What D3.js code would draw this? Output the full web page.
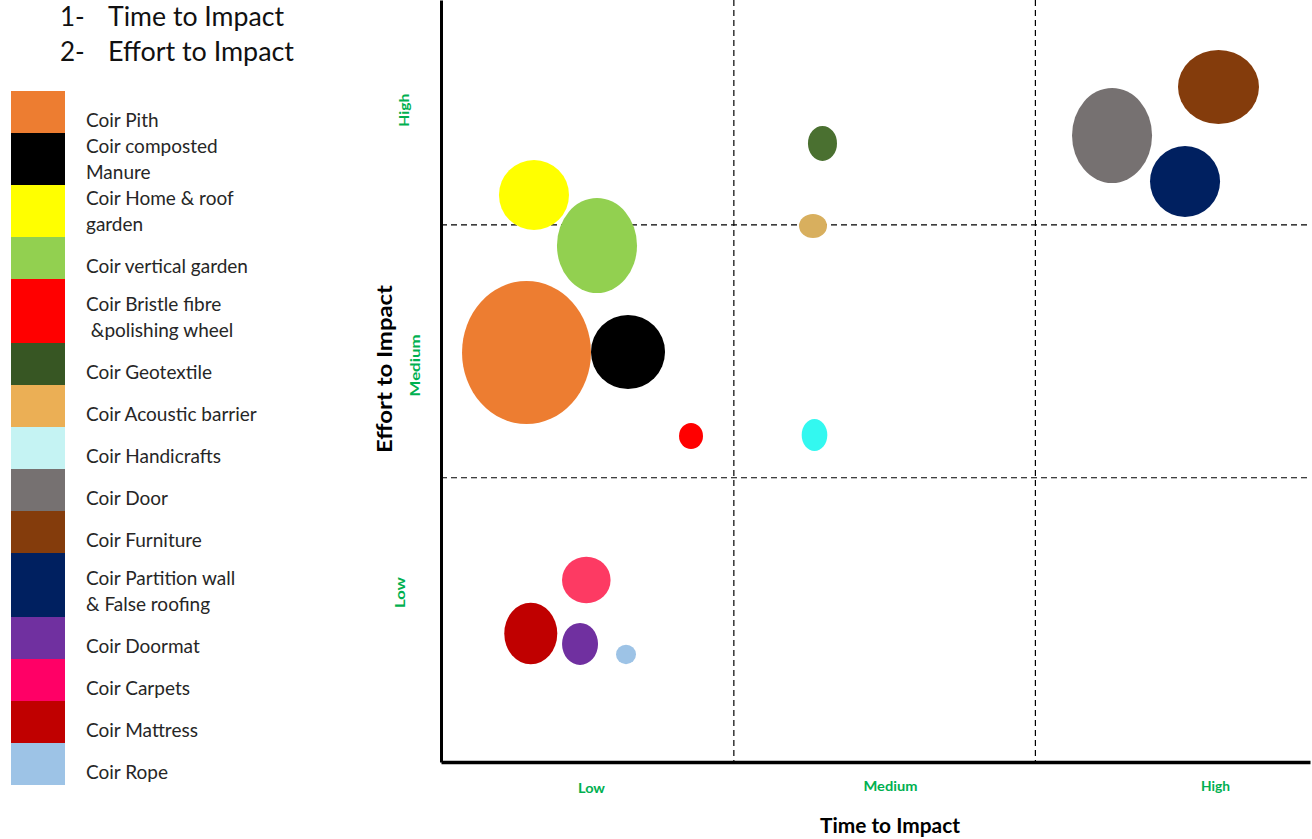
<!DOCTYPE html>
<html><head><meta charset="utf-8">
<script src="https://cdn.jsdelivr.net/npm/d3@7"></script>
<style>body{margin:0;background:#fff}svg{display:block}</style>
</head><body>
<svg id="c" width="1312" height="839"></svg>
<script>
// ---- data ----
const products = ["Coir Pith","Coir composted\nManure","Coir Home & roof\ngarden","Coir vertical garden","Coir Bristle fibre\n &polishing wheel","Coir Geotextile","Coir Acoustic barrier","Coir Handicrafts","Coir Door","Coir Furniture","Coir Partition wall\n& False roofing","Coir Doormat","Coir Carpets","Coir Mattress","Coir Rope"];
const legendColors = ["#ED7D31","#000000","#FFFF00","#92D050","#FF0000","#375623","#EBAF55","#C5F3F3","#767171","#843C0C","#002060","#7030A0","#FF0066","#C00000","#9DC3E6"];
const bubbleColors = ["#ED7D31","#000000","#FFFF00","#92D050","#FF0000","#4A7030","#D8AF5E","#33F8F0","#767171","#843C0C","#002060","#7030A0","#FD3A63","#C00000","#9DC3E6"];
// time to impact (0-100), effort to impact (0-100)
const timeScore   = [9.84,21.52,10.70,17.95,28.77,43.90,42.81,42.98,77.22,89.47,85.62,16.00,16.72,10.33,21.29];
const effortScore = [53.74,53.81,74.41,67.78,42.78,81.17,70.34,42.91,82.22,88.58,76.18,15.49,23.88,16.86,14.11];
// bubble extent along each axis (same units)
const bubbleW = [14.84,8.52,8.06,9.21,2.76,3.34,3.22,2.95,9.21,9.32,8.06,4.14,5.59,6.10,2.30];
const bubbleH = [18.77,9.71,9.19,12.47,3.41,4.59,3.15,4.20,12.47,9.71,9.32,5.51,6.12,8.08,2.55];
const xTickLabels = ["Low","Medium","High"];
const xTickValues = [17.26,51.67,89.07];
const yTickLabels = ["Low","Medium","High"];
const yTickValues = [22.3,52.1,85.6];
const xDividers = [33.7,68.4];
const yDividers = [37.3,70.5];
const headerLines = ["1-","2-"];
const headerTexts = ["Time to Impact","Effort to Impact"];

// ---- layout ----
const L = 441, R = 1310, T = 0, B = 762;
const svg = d3.select("#c");
const x = d3.scaleLinear().domain([0,100]).range([L,R]);
const y = d3.scaleLinear().domain([0,100]).range([B,T]);
const green = "#00B050";
const font = "Lato, 'Open Sans', sans-serif";

// dividers
svg.selectAll(".vd").data(xDividers).join("line")
  .attr("x1",d=>x(d)).attr("x2",d=>x(d)).attr("y1",T).attr("y2",B)
  .attr("stroke","#000").attr("stroke-width",1.2).attr("stroke-dasharray","6,4");
svg.selectAll(".hd").data(yDividers).join("line")
  .attr("x1",L).attr("x2",R).attr("y1",d=>y(d)).attr("y2",d=>y(d))
  .attr("stroke","#000").attr("stroke-width",1.2).attr("stroke-dasharray","6,4");

// bubbles
const idx = d3.range(products.length);
svg.append("g").selectAll("ellipse").data(idx).join("ellipse")
  .attr("cx",i=>x(timeScore[i])).attr("cy",i=>y(effortScore[i]))
  .attr("rx",i=>(x(bubbleW[i])-x(0))/2).attr("ry",i=>(y(0)-y(bubbleH[i]))/2)
  .attr("fill",i=>bubbleColors[i]);

// axes
const xLen = [27,54,29], xDy = [2,0,0];
const xAxis = d3.axisBottom(x).tickValues(xTickValues).tickFormat((d,i)=>xTickLabels[i]).tickSize(0).tickPadding(19);
const gx = svg.append("g").attr("transform",`translate(0,${B})`).call(xAxis);
gx.select(".domain").attr("stroke","#000").attr("stroke-width",3.5);
gx.selectAll(".tick text").attr("fill",green).attr("font-family",font).attr("font-weight","bold").attr("font-size",14)
  .attr("textLength",(d,i)=>xLen[i]).attr("lengthAdjust","spacingAndGlyphs")
  .attr("transform",(d,i)=>`translate(0,${xDy[i]})`);

const yAxis = d3.axisLeft(y).tickValues(yTickValues).tickFormat((d,i)=>yTickLabels[i]).tickSize(0).tickPadding(0);
const gy = svg.append("g").attr("transform",`translate(${L},0)`).call(yAxis);
gy.select(".domain").attr("stroke","#000").attr("stroke-width",3);
const yLabX = [-36,-21,-32], yLen = [31,62,33];
gy.selectAll(".tick text").attr("fill",green).attr("font-family",font).attr("font-weight","bold").attr("font-size",14)
  .attr("text-anchor","middle").attr("x",0).attr("dy",0)
  .attr("textLength",(d,i)=>yLen[i]).attr("lengthAdjust","spacingAndGlyphs")
  .attr("transform",(d,i)=>`translate(${yLabX[i]},0) rotate(-90)`);

// axis titles
svg.append("text").attr("x",890).attr("y",833).attr("text-anchor","middle")
  .attr("font-family",font).attr("font-weight","bold").attr("font-size",20).attr("fill","#000")
  .attr("textLength",140).attr("lengthAdjust","spacingAndGlyphs").text("Time to Impact");
svg.append("text").attr("transform","translate(392,369) rotate(-90)").attr("text-anchor","middle")
  .attr("font-family",font).attr("font-weight","bold").attr("font-size",21).attr("fill","#000")
  .attr("textLength",168).attr("lengthAdjust","spacingAndGlyphs").text("Effort to Impact");

// header
headerLines.forEach((t,i)=>{
  svg.append("text").attr("x",60).attr("y",26+i*35).attr("font-family",font).attr("font-weight",400)
    .attr("font-size",26).attr("fill","#111").text(t);
  svg.append("text").attr("x",108).attr("y",26+i*35).attr("font-family",font).attr("font-weight",400)
    .attr("font-size",26).attr("fill","#111").attr("textLength",i===0?176:186).attr("lengthAdjust","spacingAndGlyphs").text(headerTexts[i]);
});

// legend
const rowH = [42,52,52,42,64,42,42,42,42,42,64,42,42,42,42];
let yy = 91;
const lg = svg.append("g");
idx.forEach(i=>{
  const h = rowH[i];
  lg.append("rect").attr("x",11).attr("y",yy).attr("width",54).attr("height",h).attr("fill",legendColors[i]);
  const lines = products[i].split("\n");
  const mid = yy + h/2 + (lines.length===1?8:(h-52)/2);
  const t = lg.append("text").attr("font-family",font).attr("font-size",19).attr("fill","#262626");
  lines.forEach((ln,k)=>{
    t.append("tspan").attr("x",86).attr("y",mid + (k-(lines.length-1)/2)*26 + 7).attr("xml:space","preserve").text(ln);
  });
  yy += h;
});
</script>
</body></html>
